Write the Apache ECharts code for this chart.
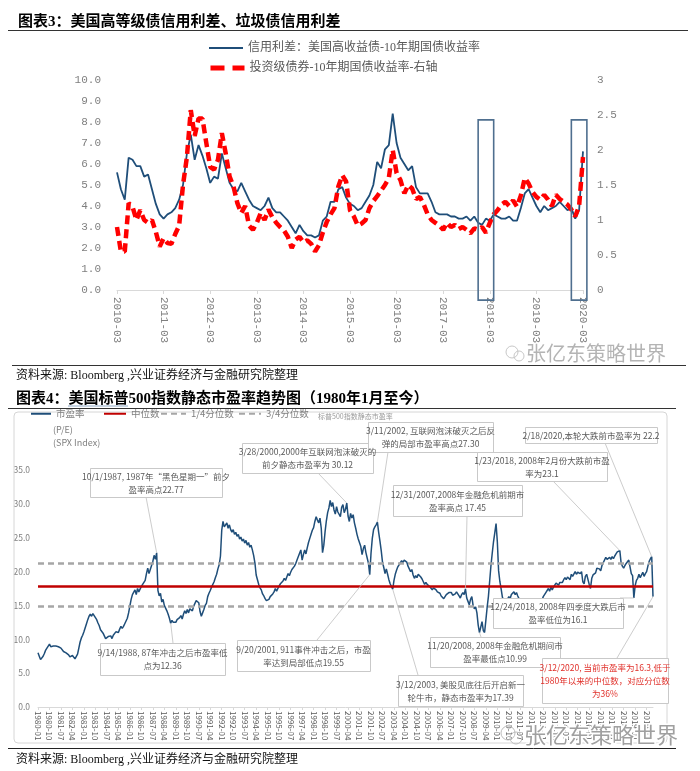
<!DOCTYPE html>
<html><head><meta charset="utf-8">
<script src="https://cdn.jsdelivr.net/npm/echarts@6/dist/echarts.min.js"></script>
<style>html,body{margin:0;padding:0;background:#fff}#c{width:700px;height:771px}</style>
</head><body><div id="c"></div>
<script>
// ---------- DATA ----------
// Chart 3: monthly, 2010-03 .. 2020-03
const spreadCats = [];
for (let y = 2010, m = 3; y < 2020 || (y === 2020 && m <= 3);) { spreadCats.push(y + '-' + String(m).padStart(2, '0')); m++; if (m > 12) { m = 1; y++; } }
// 信用利差：美国高收益债-10年期国债收益率 (left axis)
const hySpread = [
 5.6,4.8,4.3,6.3,6.2,5.9,5.9,5.4,5.5,4.8,4.1,3.6,
 3.4,3.6,3.7,3.9,4.3,5.0,6.5,7.4,6.2,6.9,6.4,5.8,
 5.1,5.4,5.3,6.5,5.8,5.1,4.8,4.7,5.1,4.7,4.3,4.0,
 3.9,3.8,4.0,4.4,3.9,3.7,3.7,3.5,3.3,3.0,2.7,3.1,
 2.8,2.6,2.6,2.5,2.6,3.3,3.5,4.2,4.2,4.8,4.9,4.4,
 4.1,4.0,3.8,3.9,4.2,4.5,5.0,6.1,5.8,6.7,6.9,8.4,
 7.0,6.3,6.0,5.7,5.9,4.9,4.6,4.6,4.6,4.2,3.7,3.6,
 3.6,3.6,3.5,3.5,3.4,3.4,3.5,3.3,3.5,3.2,3.1,3.4,
 3.3,3.6,3.5,3.4,3.4,3.5,3.3,3.3,3.9,4.6,4.8,4.4,
 4.0,3.7,4.0,3.8,3.9,4.0,4.2,4.0,3.8,3.9,3.4,3.8,
 6.6];
// 投资级债券-10年期国债收益率 (right axis)
const igSpread = [
 0.9,0.55,0.55,1.24,1.19,1.0,1.14,1.0,0.96,1.0,0.83,0.62,
 0.74,0.67,0.66,0.8,0.92,1.5,1.9,2.57,2.2,2.45,2.45,2.1,
 1.76,1.72,1.86,2.24,1.95,1.62,1.48,1.24,1.1,1.2,0.92,0.86,
 0.96,1.1,1.0,1.15,1.04,0.96,0.9,0.85,0.76,0.6,0.72,0.76,
 0.68,0.71,0.66,0.55,0.64,0.82,0.97,1.08,1.17,1.48,1.64,1.55,
 1.14,1.05,0.92,0.95,1.0,1.17,1.27,1.34,1.42,1.5,1.6,2.0,
 1.67,1.57,1.38,1.5,1.45,1.3,1.33,1.22,1.08,1.0,0.96,0.92,
 0.86,0.96,0.9,0.93,0.87,0.9,0.86,0.81,0.88,0.86,0.9,0.82,
 0.96,1.08,1.14,1.22,1.26,1.2,1.28,1.19,1.35,1.6,1.52,1.4,
 1.33,1.29,1.36,1.29,1.2,1.36,1.3,1.26,1.22,1.15,1.05,1.2,
 1.9];

// Chart 4: monthly S&P 500 P/E, 1980-01 .. 2020-03
const peCats = [];
for (let y = 1980, m = 1; y < 2020 || (y === 2020 && m <= 3);) { peCats.push(y + '-' + String(m).padStart(2, '0')); m++; if (m > 12) { m = 1; y++; } }
const peRatio = [
 8.0,7.5,7.0,7.1,7.5,7.9,8.4,8.7,8.9,9.3,8.9,9.1,        // 1980
 9.0,8.8,9.0,9.1,8.9,8.8,8.7,8.5,8.2,8.3,8.0,7.9,        // 1981
 7.7,7.4,7.3,7.6,7.4,7.1,7.2,7.8,8.7,9.6,10.2,10.6,      // 1982
 11.1,11.7,12.3,12.9,13.4,13.7,13.4,13.8,13.5,13.3,12.9,12.4, // 1983
 12.0,11.4,11.2,10.9,10.5,10.1,9.9,10.4,10.2,10.5,10.1,10.6,  // 1984
 10.8,11.1,11.2,11.0,11.5,11.9,11.6,11.9,12.3,12.7,13.1,13.9, // 1985
 14.9,15.9,16.6,16.8,17.3,16.6,17.5,17.0,17.4,17.8,18.1,18.2, // 1986
 18.7,19.7,20.5,19.7,20.3,20.9,21.5,22.4,21.8,22.77,17.2,16.4,// 1987
 16.8,15.5,15.9,15.0,14.6,14.2,13.7,13.1,12.36,12.8,12.5,12.7,// 1988
 12.5,12.9,12.7,13.2,13.5,13.0,13.7,14.2,13.8,14.4,13.9,14.5, // 1989
 14.6,14.2,14.9,15.3,15.7,15.9,15.4,14.1,13.4,13.9,14.4,15.0, // 1990
 15.3,16.3,16.8,17.2,17.7,17.9,18.5,19.1,19.6,20.4,21.0,22.3, // 1991
 26.1,27.4,26.6,26.9,27.2,26.4,26.9,26.2,25.8,26.2,25.5,25.8, // 1992
 25.2,25.5,24.8,25.1,24.5,24.8,24.2,24.6,23.9,24.3,23.6,23.9, // 1993
 23.2,22.4,21.3,19.5,18.8,18.1,17.6,17.3,16.7,16.4,16.0,15.7, // 1994
 15.6,15.9,16.3,16.1,16.7,17.0,17.5,17.1,17.5,17.9,18.2,18.0, // 1995
 18.6,19.0,18.7,19.2,19.7,19.4,19.9,20.3,20.1,20.8,21.2,21.7, // 1996
 21.9,22.7,23.2,21.7,22.5,23.2,22.6,23.5,24.3,24.9,25.5,26.1, // 1997
 26.5,27.4,28.1,27.6,27.2,27.9,26.4,22.8,23.9,25.9,27.5,28.7, // 1998
 29.4,30.5,29.6,30.2,29.1,28.5,29.6,28.8,29.0,28.1,29.5,29.9, // 1999
 28.7,29.2,30.12,28.2,27.4,28.6,27.9,28.4,27.2,26.4,25.5,24.8,// 2000
 24.9,23.7,22.5,23.4,23.9,22.8,22.0,21.2,19.55,22.7,24.9,26.2,// 2001
 26.6,26.9,27.30,25.8,24.5,23.1,21.4,20.6,19.7,20.4,19.6,18.8,// 2002
 18.2,17.8,17.39,18.7,19.6,20.2,20.7,20.9,21.3,21.6,21.3,21.7,// 2003
 21.9,21.4,20.8,20.4,20.0,20.3,19.5,19.0,19.4,19.1,19.6,19.8, // 2004
 19.2,18.9,18.5,18.1,18.4,18.1,18.3,17.8,17.7,17.3,17.6,17.5, // 2005
 17.3,17.0,17.2,16.8,16.4,16.2,16.0,16.3,16.6,16.8,16.9,17.1, // 2006
 16.9,16.5,16.3,16.7,17.0,16.8,16.4,16.1,16.6,16.9,16.6,17.45,// 2007
 16.1,15.6,15.1,15.9,16.3,15.0,14.5,14.8,13.9,12.1,10.99,11.8,// 2008
 12.6,11.3,11.0,12.8,14.7,16.3,18.6,20.9,22.7,24.4,25.7,27.1, // 2009
 24.4,20.1,18.5,17.4,16.2,15.6,16.0,15.3,15.9,16.3,16.0,16.6, // 2010
 16.7,17.0,16.6,16.9,16.4,16.0,15.7,14.5,14.1,15.1,14.9,14.8, // 2011
 15.3,15.7,16.0,15.8,14.9,15.3,15.6,15.9,16.1,15.7,15.5,15.8, // 2012
 16.3,16.5,16.9,17.1,17.5,17.1,17.7,17.3,17.7,18.0,18.3,18.5, // 2013
 18.0,18.4,18.6,18.4,18.8,19.1,18.8,19.2,19.0,18.8,19.6,19.3, // 2014
 19.4,20.0,19.6,19.9,20.1,19.7,20.0,18.5,18.2,19.3,19.6,19.4, // 2015
 18.1,17.5,19.0,19.5,19.7,19.8,20.5,20.7,20.4,20.1,20.9,21.3, // 2016
 21.5,22.1,21.8,21.9,22.1,21.8,22.2,21.9,22.3,22.6,22.9,22.7, // 2017
 23.1,21.3,20.8,20.5,20.9,21.2,21.4,21.7,21.5,19.7,19.4,16.1, // 2018
 17.9,18.7,19.0,19.6,19.1,19.5,19.9,19.3,19.7,20.0,20.8,21.5, // 2019
 21.9,22.2,16.3];                                             // 2020
const PE_MEDIAN = 17.87;
const PE_Q1 = 14.9;
const PE_Q3 = 21.3;

const notes = [
 { cat: '1987-10', box: [90, 468, 132, 29], from: [146, 497], lines: ['10/1/1987, 1987年“黑色星期一”前夕', '盈率高点22.77'] },
 { cat: '2000-03', box: [242, 443, 131, 30], from: [318, 473], lines: ['3/28/2000,2000年互联网泡沫破灭的', '前夕静态市盈率为 30.12'] },
 { cat: '2002-03', box: [368, 422, 125, 30], from: [388, 452], lines: ['3/11/2002, 互联网泡沫破灭之后反', '弹的局部市盈率高点27.30'] },
 { cat: '2007-12', box: [393, 485, 129, 31], from: [467, 516], lines: ['12/31/2007,2008年金融危机前期市', '盈率高点 17.45'] },
 { cat: '2018-01', box: [477, 452, 130, 29], from: [553, 481], lines: ['1/23/2018, 2008年2月份大跌前市盈', '率为23.1'] },
 { cat: '2020-02', box: [525, 427, 132, 16], from: [605, 443], lines: ['2/18/2020,本轮大跌前市盈率为 22.2'] },
 { cat: '1988-09', box: [100, 643, 125, 32], from: [173, 643], lines: ['9/14/1988, 87年冲击之后市盈率低', '点为12.36'] },
 { cat: '2001-09', box: [237, 640, 133, 31], from: [317, 640], lines: ['9/20/2001, 911事件冲击之后，市盈', '率达到局部低点19.55'] },
 { cat: '2008-11', box: [430, 637, 130, 30], from: [481, 637], lines: ['11/20/2008, 2008年金融危机期间市', '盈率最低点10.99'] },
 { cat: '2018-12', box: [493, 598, 130, 30], from: [620, 598], lines: ['12/24/2018, 2008年四季度大跌后市', '盈率低位为16.1'] },
 { cat: '2003-03', box: [398, 675, 125, 31], from: [418, 675], lines: ['3/12/2003, 美股见底往后开启新一', '轮牛市，静态市盈率为17.39'] },
 { cat: '2020-03', box: [542, 658, 126, 45], from: [617, 658], red: true, lines: ['3/12/2020, 当前市盈率为16.3,低于', '1980年以来的中位数，对应分位数', '为36%'] }
];

// ---------- CHART ----------
const SERIF = '"Liberation Serif","Noto Sans CJK SC"';
const MONO = '"Liberation Mono","Noto Sans CJK SC"';
const SANS = '"Noto Sans CJK SC","Liberation Sans"';
const chart = echarts.init(document.getElementById('c'), null, { renderer: 'canvas', width: 700, height: 771 });

const S1 = '信用利差：美国高收益债-10年期国债收益率';
const S2 = '投资级债券-10年期国债收益率-右轴';
const lg1Text = { fontFamily: SERIF, fontSize: 12, color: '#595959' };
const lg2Text = { fontFamily: SANS, fontSize: 9.5, color: '#7f7f7f' };
const noSym = { opacity: 0 };

chart.setOption({
  animation: false,
  backgroundColor: '#fff',
  grid: [
    { left: 117, top: 80, width: 466, height: 210 },
    { left: 38, top: 470, width: 615, height: 237 }
  ],
  legend: [
    { data: [S1], left: 208, top: 42, padding: 0, itemWidth: 34, itemHeight: 8, itemStyle: noSym, textStyle: lg1Text },
    { data: [S2], left: 208, top: 62, padding: 0, itemWidth: 34, itemHeight: 8, itemStyle: noSym, textStyle: lg1Text,
      lineStyle: { type: [14, 8], width: 5 } },
    { data: ['市盈率'], left: 30, top: 409, padding: 0, itemWidth: 20, itemHeight: 8, itemStyle: noSym, textStyle: lg2Text },
    { data: ['中位数'], left: 103, top: 409, padding: 0, itemWidth: 22, itemHeight: 8, itemStyle: noSym, textStyle: lg2Text },
    { data: ['1/4分位数'], left: 160, top: 409, padding: 0, itemWidth: 25, itemHeight: 8, itemStyle: noSym, textStyle: lg2Text },
    { data: ['3/4分位数'], left: 238, top: 409, padding: 0, itemWidth: 22, itemHeight: 8, itemStyle: noSym, textStyle: lg2Text }
  ],
  xAxis: [
    { type: 'category', gridIndex: 0, data: spreadCats, boundaryGap: false,
      axisLine: { lineStyle: { color: '#d9d9d9', width: 1 } },
      axisTick: { interval: 11, length: 4, lineStyle: { color: '#d9d9d9' } },
      axisLabel: { interval: 11, rotate: -90, margin: 7, fontFamily: MONO, fontSize: 11, color: '#7f7f7f' },
      splitLine: { show: false } },
    { type: 'category', gridIndex: 1, data: peCats, boundaryGap: false,
      axisLine: { lineStyle: { color: '#d9d9d9', width: 1 } },
      axisTick: { interval: 8, length: 3, lineStyle: { color: '#d9d9d9' } },
      axisLabel: { interval: 8, rotate: -90, margin: 4, fontFamily: SANS, fontSize: 8, color: '#595959' },
      splitLine: { show: false } }
  ],
  yAxis: [
    { type: 'value', gridIndex: 0, min: 0, max: 10, interval: 1,
      axisLine: { show: false }, axisTick: { show: false }, splitLine: { show: false },
      axisLabel: { formatter: v => v.toFixed(1), margin: 16, fontFamily: MONO, fontSize: 11, color: '#7f7f7f' } },
    { type: 'value', gridIndex: 0, position: 'right', min: 0, max: 3, interval: 0.5,
      axisLine: { show: false }, axisTick: { show: false }, splitLine: { show: false },
      axisLabel: { formatter: v => String(v), margin: 14, fontFamily: MONO, fontSize: 11, color: '#7f7f7f' } },
    { type: 'value', gridIndex: 1, min: 0, max: 35, interval: 5,
      axisLine: { show: false }, axisTick: { show: false }, splitLine: { show: false },
      axisLabel: { formatter: v => v.toFixed(1), margin: 8, fontFamily: SANS, fontSize: 8.5, color: '#7f7f7f' } }
  ],
  series: [
    { name: S1, type: 'line', xAxisIndex: 0, yAxisIndex: 0, data: hySpread, symbol: 'none', z: 2,
      lineStyle: { color: '#1f4e79', width: 1.8 }, itemStyle: { color: '#1f4e79' } },
    { name: S2, type: 'line', xAxisIndex: 0, yAxisIndex: 1, data: igSpread, symbol: 'none', z: 3,
      lineStyle: { color: '#ff0000', width: 4.5, type: [9, 5] }, itemStyle: { color: '#ff0000' } },
    { name: '市盈率', type: 'line', xAxisIndex: 1, yAxisIndex: 2, data: peRatio, symbol: 'none', z: 2,
      lineStyle: { color: '#1f4e79', width: 1.5 }, itemStyle: { color: '#1f4e79' } },
    { name: '中位数', type: 'line', xAxisIndex: 1, yAxisIndex: 2, data: [], symbol: 'none', z: 4,
      lineStyle: { color: '#c00000', width: 2.5 }, itemStyle: { color: '#c00000' },
      markLine: { silent: true, symbol: ['none', 'none'], label: { show: false },
        lineStyle: { color: '#c00000', width: 2.5, type: 'solid' }, data: [{ yAxis: PE_MEDIAN }] } },
    { name: '1/4分位数', type: 'line', xAxisIndex: 1, yAxisIndex: 2, data: [], symbol: 'none', z: 4,
      lineStyle: { color: '#a6a6a6', width: 2.5, type: [6, 4] }, itemStyle: { color: '#a6a6a6' },
      markLine: { silent: true, symbol: ['none', 'none'], label: { show: false },
        lineStyle: { color: '#a6a6a6', width: 2.5, type: [6, 4] }, data: [{ yAxis: PE_Q1 }] } },
    { name: '3/4分位数', type: 'line', xAxisIndex: 1, yAxisIndex: 2, data: [], symbol: 'none', z: 4,
      lineStyle: { color: '#a6a6a6', width: 2.5, type: [6, 4] }, itemStyle: { color: '#a6a6a6' },
      markLine: { silent: true, symbol: ['none', 'none'], label: { show: false },
        lineStyle: { color: '#a6a6a6', width: 2.5, type: [6, 4] }, data: [{ yAxis: PE_Q3 }] } }
  ]
});

// ---------- GRAPHICS (titles, notes, boxes) ----------
const g = [];
function txt(x, y, text, font, fill, extra) {
  g.push(Object.assign({ type: 'text', z: 50, style: { x, y, text, font, fill, align: 'left', verticalAlign: 'middle', textAlign: 'left', textVerticalAlign: 'middle' } }, extra || {}));
}
function line(x1, y1, x2, y2, stroke, w, z) {
  g.push({ type: 'line', z: z || 40, silent: true, shape: { x1, y1, x2, y2 }, style: { stroke, lineWidth: w } });
}
// chart 3 frame text
txt(18, 22, '图表3：美国高等级债信用利差、垃圾债信用利差', 'bold 15px ' + SERIF, '#000');
line(8, 30.5, 688, 30.5, '#333', 1);
line(12, 365.5, 686, 365.5, '#333', 1.2);
txt(16, 376, '资料来源: Bloomberg ,兴业证券经济与金融研究院整理', '12px ' + SERIF, '#111');
// watermark 1
g.push({ type: 'circle', z: 45, shape: { cx: 512, cy: 352, r: 6 }, style: { fill: 'none', stroke: '#c8c8c8', lineWidth: 1 } });
g.push({ type: 'circle', z: 45, shape: { cx: 519, cy: 356, r: 5 }, style: { fill: 'none', stroke: '#c8c8c8', lineWidth: 1 } });
txt(526, 353, '张亿东策略世界', '20px ' + SANS, '#b4b4b4');

// chart 3 highlight boxes (category index / left-axis value via scale)
[[92.6, 96.8], [117.3, 121.4]].forEach(([a, b]) => {
  const p1 = chart.convertToPixel({ xAxisIndex: 0, yAxisIndex: 0 }, [a, 8.1]);
  const p2 = chart.convertToPixel({ xAxisIndex: 0, yAxisIndex: 0 }, [b, -0.48]);
  g.push({ type: 'rect', z: 30, shape: { x: p1[0], y: p1[1], width: p2[0] - p1[0], height: p2[1] - p1[1] },
    style: { fill: 'none', stroke: '#4f6f8f', lineWidth: 1.6 } });
});

// chart 4 frame
txt(16, 399, '图表4：美国标普500指数静态市盈率趋势图（1980年1月至今）', 'bold 15px ' + SERIF, '#000');
line(8, 408.5, 676, 408.5, '#333', 1);
line(68, 406, 128, 406, '#8fa9c6', 1);
g.push({ type: 'rect', z: 1, shape: { x: 14, y: 412, width: 653, height: 331, r: 4 }, style: { fill: 'none', stroke: '#d6d6d6', lineWidth: 1 } });
line(8, 748.5, 676, 748.5, '#222', 1.2);
txt(16, 760, '资料来源: Bloomberg ,兴业证券经济与金融研究院整理', '12px ' + SERIF, '#111');
txt(53, 430, '(P/E)', '9px ' + SANS, '#7f7f7f');
txt(53, 443, '(SPX Index)', '9px ' + SANS, '#7f7f7f');
txt(318, 416, '标普500指数静态市盈率', '7px ' + SANS, '#9a9a9a');
// watermark 2
g.push({ type: 'circle', z: 60, shape: { cx: 508, cy: 733, r: 7 }, style: { fill: 'none', stroke: '#bdbdbd', lineWidth: 1 } });
g.push({ type: 'circle', z: 60, shape: { cx: 516, cy: 738, r: 6 }, style: { fill: 'none', stroke: '#bdbdbd', lineWidth: 1 } });
g.push({ type: 'text', z: 60, style: { x: 524, y: 735, text: '张亿东策略世界', font: '22px ' + SANS, fill: '#a0a0a0', stroke: '#ffffff', lineWidth: 3, align: 'left', verticalAlign: 'middle', textAlign: 'left', textVerticalAlign: 'middle' } });

// notes with leader lines to data points
notes.forEach(n => {
  const idx = peCats.indexOf(n.cat);
  const pt = chart.convertToPixel({ xAxisIndex: 1, yAxisIndex: 2 }, [idx, peRatio[idx]]);
  line(n.from[0], n.from[1], pt[0], pt[1], '#bfbfbf', 0.8, 40);
  const [bx, by, bw, bh] = n.box;
  g.push({ type: 'rect', z: 42, shape: { x: bx + 0.5, y: by + 0.5, width: bw, height: bh }, style: { fill: '#fff', stroke: '#c9c9c9', lineWidth: 1 } });
  g.push({ type: 'text', z: 43, style: { x: bx + bw / 2, y: by + bh / 2 + 0.5, text: n.lines.join('\n'), font: '8.5px ' + SANS, lineHeight: 13,
    fill: n.red ? '#e0302a' : '#595959', align: 'center', verticalAlign: 'middle', textAlign: 'center', textVerticalAlign: 'middle' } });
});

chart.setOption({ graphic: g });
</script></body></html>
